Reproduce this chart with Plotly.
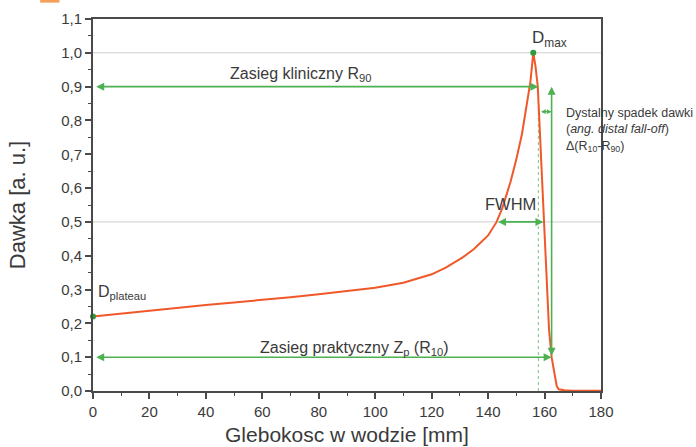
import plotly.graph_objects as go

# ---- data ----
depth = [0, 10, 20, 30, 40, 50, 60, 70, 80, 90, 100, 110, 116, 120, 125, 131, 135,
         140, 143, 145, 148, 150, 152, 154, 155, 156, 156.8, 157.6, 158.6, 159.6,
         160.6, 161.6, 162.5, 163.5, 164.3, 165, 167, 170, 175, 180]
dose = [0.22, 0.229, 0.238, 0.246, 0.254, 0.262, 0.269, 0.277, 0.286, 0.295, 0.305,
        0.32, 0.334, 0.345, 0.365, 0.395, 0.42, 0.46, 0.5, 0.54, 0.62, 0.685, 0.76,
        0.855, 0.915, 1.0, 0.96, 0.9, 0.72, 0.5, 0.32, 0.18, 0.1, 0.045, 0.015,
        0.005, 0.002, 0.001, 0.001, 0.001]

x_ticks = [0, 20, 40, 60, 80, 100, 120, 140, 160, 180]
y_ticks = [0.0, 0.1, 0.2, 0.3, 0.4, 0.5, 0.6, 0.7, 0.8, 0.9, 1.0, 1.1]
y_ticklabels = ["0,0", "0,1", "0,2", "0,3", "0,4", "0,5", "0,6", "0,7", "0,8", "0,9", "1,0", "1,1"]

d_plateau = 0.22
d_max_depth, d_max = 156.0, 1.0
r90 = 157.8
r10 = 162.5
fwhm_left, fwhm_right = 143.0, 159.6
falloff_y = 0.826

ORANGE = "#f0582a"
GREEN = "#4db152"
DARKGREEN = "#2e9a3c"
TXT = "#3a3a3a"
FONT = "Liberation Sans, Arial, sans-serif"

fig = go.Figure()

# reference grey lines
for yv in [1.0, 0.5]:
    fig.add_shape(type="line", xref="paper", yref="y", x0=0, x1=1, y0=yv, y1=yv,
                  line=dict(color="#cfcfcf", width=1), layer="below")

# dotted vertical at R90
fig.add_shape(type="line", xref="x", yref="y", x0=r90, x1=r90, y0=0, y1=0.9,
              line=dict(color="#7cc57e", width=1, dash="dot"), layer="below")

fig.add_trace(go.Scatter(x=depth, y=dose, mode="lines",
                         line=dict(color=ORANGE, width=2), hoverinfo="skip",
                         showlegend=False, cliponaxis=False))

# green dots
fig.add_trace(go.Scatter(x=[0, d_max_depth], y=[d_plateau, d_max], mode="markers",
                         marker=dict(color=DARKGREEN, size=6), showlegend=False,
                         cliponaxis=False))

def arrow(x0, y0, x1, y1, both=True, width=1.6, color=GREEN, size=1.0):
    fig.add_annotation(x=x1, y=y1, ax=x0, ay=y0, xref="x", yref="y", axref="x", ayref="y",
                       showarrow=True, arrowhead=2, startarrowhead=2, arrowsize=size,
                       startarrowsize=size, arrowwidth=width, arrowcolor=color,
                       arrowside="end+start" if both else "end", text="")

arrow(0.6, 0.9, r90, 0.9)
arrow(0.6, 0.1, r10, 0.1)
arrow(fwhm_left, 0.5, fwhm_right, 0.5)
arrow(r10, 0.1, r10, 0.9)
arrow(r90 + 0.4, falloff_y, r10, falloff_y, width=1.2, size=0.8)

def text(x, y, s, size=14, xanchor="center", yanchor="middle", align="center"):
    fig.add_annotation(x=x, y=y, xref="x", yref="y", text=s, showarrow=False,
                       xanchor=xanchor, yanchor=yanchor, align=align,
                       font=dict(family=FONT, size=size, color=TXT))

text(155.0, 1.04, "D<sub>max</sub>", size=17, xanchor="left")
text(1.0, 0.29, "D<sub>plateau</sub>", size=16, xanchor="left")
text(73.5, 0.935, "Zasieg kliniczny R<sub>90</sub>", size=16)
text(147.8, 0.553, "FWHM", size=16.5)
text(92.5, 0.125, "Zasieg praktyczny Z<sub>p</sub> (R<sub>10</sub>)", size=16)
text(167.0, 0.85, "Dystalny spadek dawki<br>(<i>ang. distal fall-off</i>)<br>Δ(R<sub>10</sub>-R<sub>90</sub>)",
     size=12.5, xanchor="left", yanchor="top", align="left")

# small orange mark at top-left
fig.add_shape(type="rect", xref="paper", yref="paper", x0=-0.104, x1=-0.066,
              y0=1.044, y1=1.06, fillcolor="#f5a05a", line=dict(width=0))

fig.update_xaxes(range=[0, 180], tickvals=x_ticks, ticktext=[str(v) for v in x_ticks],
                 showgrid=False, zeroline=False, showline=True, linecolor="#4a4a4a",
                 linewidth=2, mirror=True, ticks="outside", ticklen=6, tickwidth=1.5,
                 tickcolor="#4a4a4a", automargin=False,
                 minor=dict(dtick=10, ticks="outside", ticklen=3, tickwidth=1.2, tickcolor="#4a4a4a"),
                 tickfont=dict(family=FONT, size=15, color=TXT),
                 title=dict(text="Glebokosc w wodzie [mm]", font=dict(family=FONT, size=21, color=TXT),
                            standoff=8))
fig.update_yaxes(range=[0, 1.1], tickvals=y_ticks, ticktext=y_ticklabels,
                 showgrid=False, zeroline=False, showline=True, linecolor="#4a4a4a",
                 linewidth=2, mirror=True, ticks="outside", ticklen=6, tickwidth=1.5,
                 tickcolor="#4a4a4a", automargin=False,
                 minor=dict(dtick=0.05, ticks="outside", ticklen=3, tickwidth=1.2, tickcolor="#4a4a4a"),
                 tickfont=dict(family=FONT, size=15, color=TXT),
                 title=dict(text="Dawka [a. u.]", font=dict(family=FONT, size=22, color=TXT),
                            standoff=29))

fig.update_layout(width=696, height=447, margin=dict(l=93, r=95, t=19, b=56, autoexpand=False),
                  paper_bgcolor="white", plot_bgcolor="white", showlegend=False)

fig.write_html("out.html")
